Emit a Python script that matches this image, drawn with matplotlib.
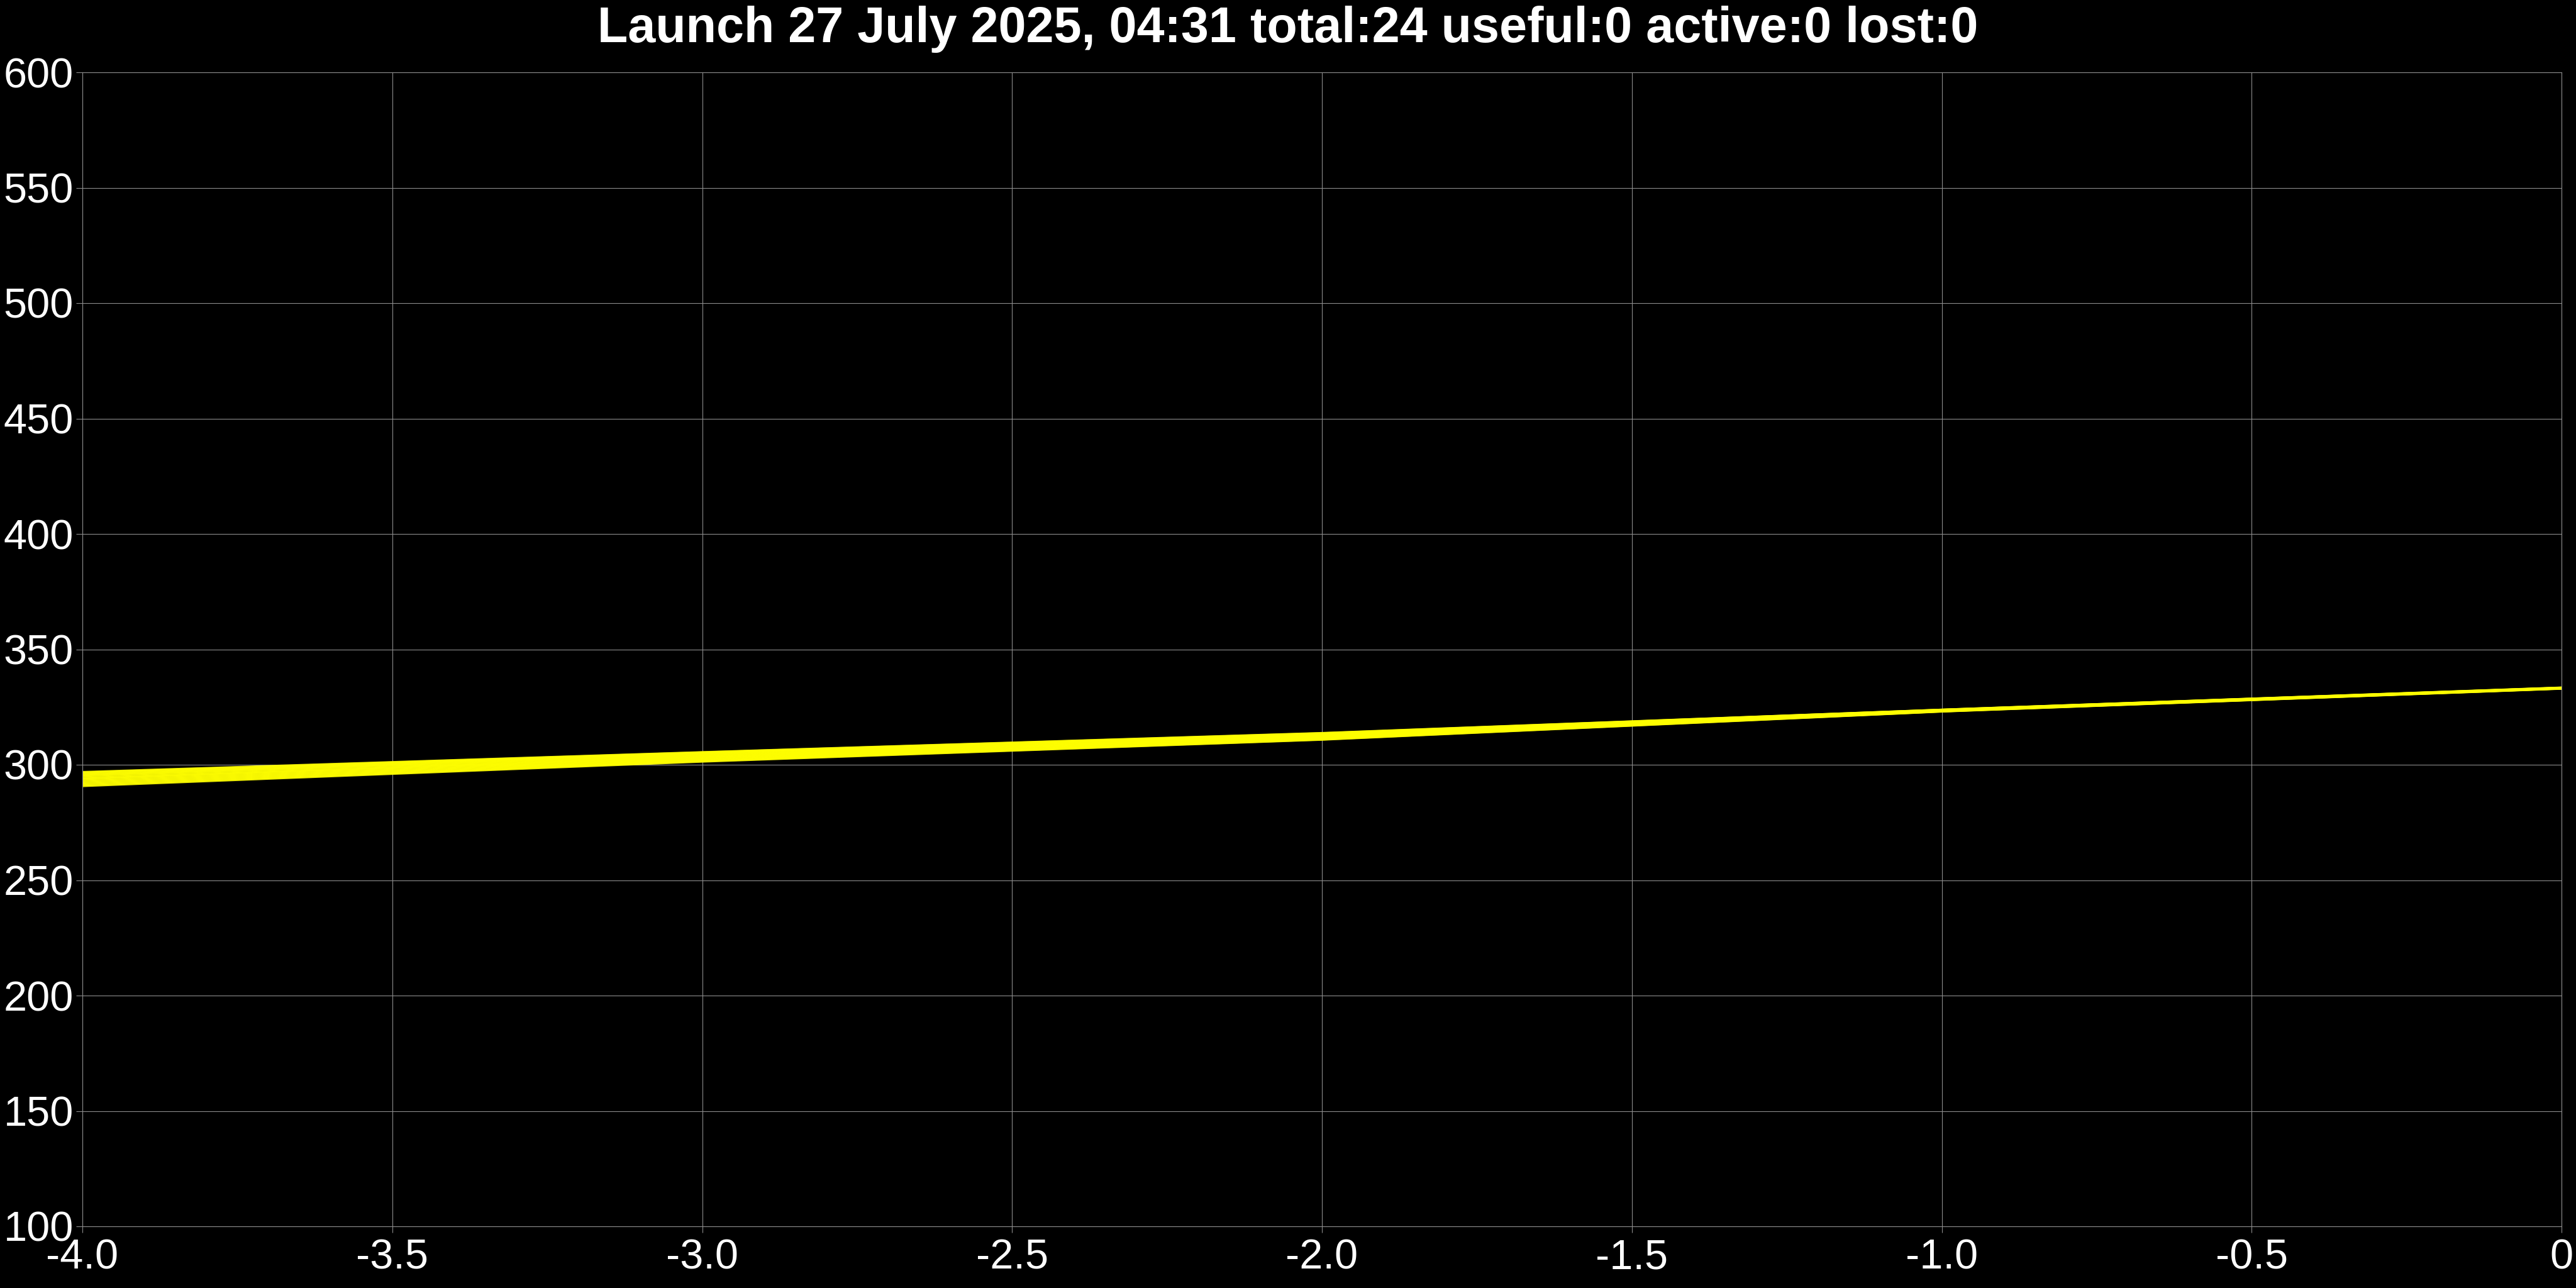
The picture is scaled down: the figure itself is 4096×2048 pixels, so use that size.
"""Launch trajectories plot — 24 tracks converging at t=0."""

import matplotlib
matplotlib.use("Agg")
import matplotlib.pyplot as plt

plt.rcParams["font.family"] = ["Liberation Sans", "DejaVu Sans"]

TITLE = "Launch 27 July 2025, 04:31 total:24 useful:0 active:0 lost:0"

t_points = [-4.0, -3.0, -2.0, -1.0, 0.0]

# value of each of the 24 tracks at the sample times
y_at_m4 = [290.6, 290.9, 291.2, 291.5, 291.8, 292.1, 292.4, 292.7, 293.0, 293.3, 293.6, 293.9,
           294.1, 294.4, 294.7, 295.0, 295.3, 295.5, 295.8, 296.0, 296.3, 296.5, 296.8, 297.0]
y_at_m3 = [301.2, 301.4, 301.6, 301.8, 302.0, 302.2, 302.4, 302.6, 302.8, 303.0, 303.2, 303.4,
           303.6, 303.8, 304.0, 304.2, 304.4, 304.6, 304.8, 305.0, 305.1, 305.3, 305.5, 305.6]
y_at_m2 = [310.7, 310.8, 311.0, 311.1, 311.3, 311.4, 311.6, 311.7, 311.9, 312.0, 312.2, 312.3,
           312.4, 312.6, 312.7, 312.9, 313.0, 313.2, 313.3, 313.5, 313.6, 313.7, 313.8, 313.9]
y_at_m1 = [322.9, 322.95, 323.0, 323.05, 323.1, 323.15, 323.2, 323.25, 323.3, 323.35, 323.4, 323.45,
           323.5, 323.55, 323.6, 323.65, 323.7, 323.75, 323.8, 323.85, 323.9, 323.95, 324.0, 324.0]
y_at_0 = [332.8, 332.85, 332.9, 332.9, 332.95, 333.0, 333.0, 333.05, 333.1, 333.1, 333.15, 333.2,
          333.2, 333.25, 333.3, 333.3, 333.35, 333.4, 333.4, 333.45, 333.5, 333.5, 333.55, 333.6]

x_ticks = [-4.0, -3.5, -3.0, -2.5, -2.0, -1.5, -1.0, -0.5, 0.0]
x_tick_labels = ["-4.0", "-3.5", "-3.0", "-2.5", "-2.0", "-1.5", "-1.0", "-0.5", "0"]
y_ticks = [100, 150, 200, 250, 300, 350, 400, 450, 500, 550, 600]

GRID = "#8c8c8c"

fig = plt.figure(figsize=(40.96, 20.48), dpi=100, facecolor="black")
ax = fig.add_axes([131 / 4096, 1 - 1950 / 2048, (4073 - 131) / 4096, (1950 - 115) / 2048])
ax.set_facecolor("black")

for track in zip(y_at_m4, y_at_m3, y_at_m2, y_at_m1, y_at_0):
    ax.plot(t_points, track, color="#ffff00", linewidth=1.6, alpha=0.85, solid_capstyle="butt")

ax.set_xlim(-4.0, 0.0)
ax.set_ylim(100, 600)
ax.set_xticks(x_ticks)
ax.set_xticklabels(x_tick_labels)
ax.set_yticks(y_ticks)
ax.grid(True, color=GRID, linewidth=0.8)
ax.set_axisbelow(True)
for side in ax.spines.values():
    side.set_color(GRID)
    side.set_linewidth(0.8)
ax.tick_params(axis="both", colors="white", labelsize=48, length=7, width=0.8, color=GRID)
ax.tick_params(axis="x", pad=7)
ax.tick_params(axis="y", pad=3)

fig.text(0.5, 1 - 47 / 2048, TITLE, color="white", fontsize=57, fontweight="bold",
         ha="center", va="center")

fig.savefig("out.png", dpi=100, facecolor="black")
